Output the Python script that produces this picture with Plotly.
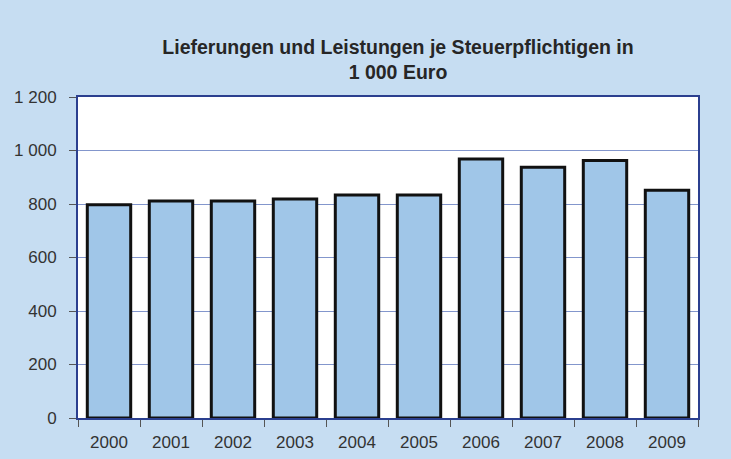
import plotly.graph_objects as go

years = ["2000", "2001", "2002", "2003", "2004", "2005", "2006", "2007", "2008", "2009"]
values = [797, 811, 811, 819, 834, 834, 968, 937, 963, 851]
title_text = "Lieferungen und Leistungen je Steuerpflichtigen in<br>1 000 Euro"

FONT = "Liberation Sans, Arial, sans-serif"

fig = go.Figure(
    go.Bar(
        x=years,
        y=values,
        marker=dict(color="#A0C6E8", line=dict(color="#111111", width=3)),
        width=0.7,
        hoverinfo="x+y",
    )
)

fig.update_layout(
    width=731,
    height=459,
    paper_bgcolor="#C6DDF2",
    plot_bgcolor="#FFFFFF",
    separators=", ",
    margin=dict(l=78, r=33, t=97, b=41, autoexpand=False),
    font=dict(family=FONT, size=17, color="#333333"),
    title=dict(
        text="<b>" + title_text + "</b>",
        x=398 / 731,
        xanchor="center",
        xref="container",
        y=1 - 54 / 459,
        yanchor="top",
        yref="container",
        font=dict(family=FONT, size=19.5, color="#262626"),
    ),
    showlegend=False,
    bargap=0.3,
)

fig.update_yaxes(
    range=[0, 1200],
    dtick=200,
    tickformat=",d",
    showgrid=True,
    gridcolor="#8396CC",
    gridwidth=1,
    showline=True,
    linecolor="#2B3F8F",
    linewidth=2,
    mirror=True,
    ticks="outside",
    ticklen=7,
    tickcolor="#555555",
    ticklabelstandoff=9,
    zeroline=False,
    automargin=False,
)
fig.update_xaxes(
    showline=True,
    linecolor="#2B3F8F",
    linewidth=2,
    mirror=True,
    ticks="outside",
    tickson="boundaries",
    ticklen=7,
    tickcolor="#555555",
    ticklabelstandoff=8,
    automargin=False,
)

fig.write_html(
    "out.html",
    config={"displayModeBar": False},
    post_script="document.body.style.margin='0';document.body.style.overflow='hidden';",
)
